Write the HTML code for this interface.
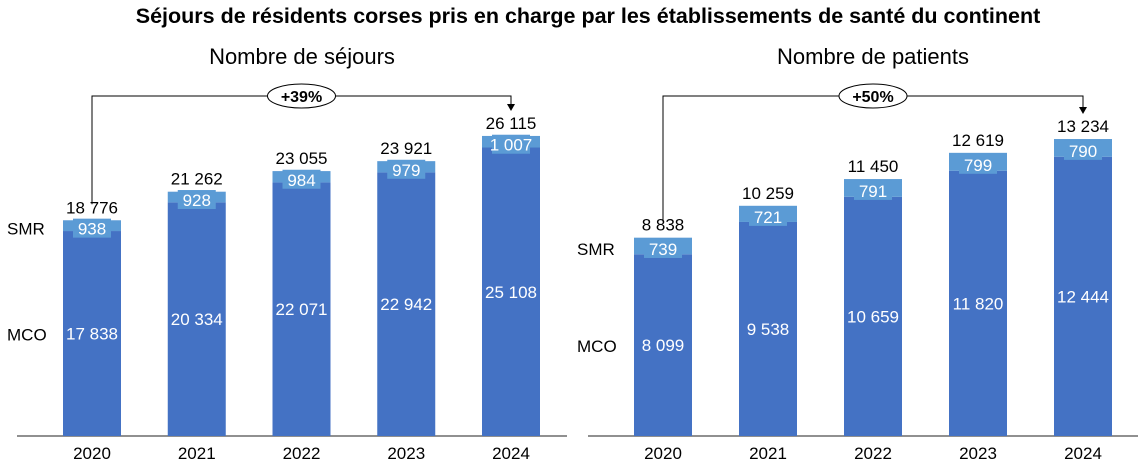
<!DOCTYPE html>
<html><head><meta charset="utf-8"><style>
body{margin:0;background:#fff;font-family:"Liberation Sans",Arial,sans-serif}
svg text{font-family:"Liberation Sans",Arial,sans-serif}
</style></head><body>
<svg id="c" width="1140" height="465" viewBox="0 0 1140 465" xmlns="http://www.w3.org/2000/svg">
<text x="588" y="23" text-anchor="middle" font-size="21.5" font-weight="bold">Séjours de résidents corses pris en charge par les établissements de santé du continent</text>
</svg>
<script>
const years=['2020','2021','2022','2023','2024'];
const sejMCO=[17838,20334,22071,22942,25108];
const sejSMR=[938,928,984,979,1007];
const patMCO=[8099,9538,10659,11820,12444];
const patSMR=[739,721,791,799,790];
const sejGrowth='+39%';
const patGrowth='+50%';
const NS='http://www.w3.org/2000/svg';
const svg=document.getElementById('c');
function fmt(v){return String(v).replace(/\B(?=(\d{3})+(?!\d))/g,' ');}
function mk(tag,attrs,parent){const e=document.createElementNS(NS,tag);for(const k in attrs)e.setAttribute(k,attrs[k]);(parent||svg).appendChild(e);return e;}
function txt(x,y,s,size,anchor,fill,parent){const t=mk('text',{x:x,y:y,'font-size':size,'text-anchor':anchor||'middle',fill:fill||'#000'},parent);t.textContent=s;return t;}
function panel(prefix,title,x0,axisL,axisR,firstX,step,scale,mco,smr,growth,lblX,cx){
  const g=mk('g',{});
  
  
  const base=436,bw=58;
  const t=txt(cx,64,title,22,'middle','#000',g);
  
  
  const ax=mk('line',{x1:axisL,x2:axisR,y1:base,y2:base,stroke:'#222','stroke-width':1},g);
  
  
  const y=v=>base-v*scale;
  const tops=[];
  years.forEach((yr,i)=>{
    const x=firstX+i*step, xc=x+bw/2;
    const tot=mco[i]+smr[i];
    const b1=mk('rect',{x:x,y:y(mco[i]),width:bw,height:base-y(mco[i]),fill:'#4472c4'},g);
    
    
    const b2=mk('rect',{x:x,y:y(tot),width:bw,height:y(mco[i])-y(tot),fill:'#5b9bd5'},g);
    
    
    const sm=(y(mco[i])+y(tot))/2+3;
    const bg=mk('rect',{x:xc-19,y:sm-10,width:38,height:19,fill:'#5b9bd5'},g);
    
    
    const l2=txt(xc,sm+6,fmt(smr[i]),17,'middle','#fff',g);
    
    
    const l1=txt(xc,(y(mco[i])+base)/2+6,fmt(mco[i]),17,'middle','#fff',g);
    
    
    const l3=txt(xc,y(tot)-7,fmt(tot),17,'middle','#000',g);
    
    
    const l4=txt(xc,459,yr,17,'middle','#000',g);
    
    
    tops.push([xc,y(tot)]);
  });
  const s=txt(lblX,(y(mco[0])+y(mco[0]+smr[0]))/2+9,'SMR',17,'start','#000',g);
  
  
  const m=txt(lblX,(y(mco[0])+base)/2+7,'MCO',17,'start','#000',g);
  
  
  const a=tops[0],b=tops[4];
  const p=mk('polyline',{points:`${a[0]},${a[1]-16} ${a[0]},96 ${b[0]},96 ${b[0]},${b[1]-28}`,fill:'none',stroke:'#000','stroke-width':1},g);
  
  
  const h=mk('polygon',{points:`${b[0]-4},${b[1]-32} ${b[0]+4},${b[1]-32} ${b[0]},${b[1]-25}`,fill:'#000'},g);
  
  
  const ex=(a[0]+b[0])/2;
  const el=mk('ellipse',{cx:ex,cy:96,rx:34,ry:12,fill:'#fff',stroke:'#000','stroke-width':1},g);
  
  
  const gt=txt(ex,102,growth,16,'middle','#000',g);
  gt.setAttribute('font-weight','bold');
  
  
}
panel('sejours','Nombre de séjours',0,17,567,63,104.75,0.01149,sejMCO,sejSMR,sejGrowth,7,302);
panel('patients','Nombre de patients',0,588,1138,634,105,0.02244,patMCO,patSMR,patGrowth,577,873);
</script>
</body></html>
